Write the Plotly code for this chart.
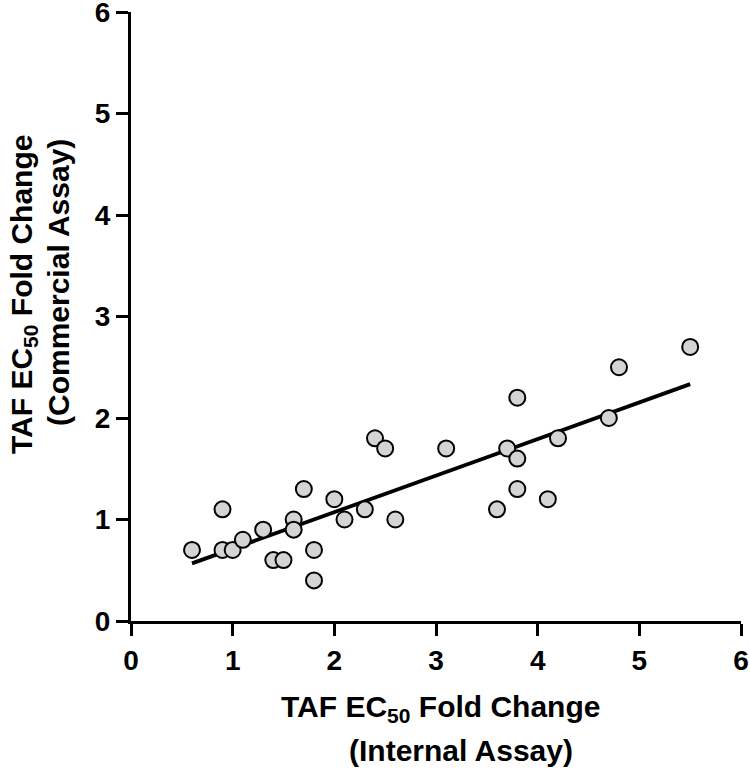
import numpy as np
import plotly.graph_objects as go

internal_fc = [0.6, 0.9, 0.9, 1.0, 1.1, 1.3, 1.4, 1.5, 1.6, 1.6, 1.7, 1.8, 1.8, 2.0, 2.1,
               2.3, 2.4, 2.5, 2.6, 3.1, 3.6, 3.7, 3.8, 3.8, 3.8, 4.1, 4.2, 4.7, 4.8, 5.5]
commercial_fc = [0.7, 1.1, 0.7, 0.7, 0.8, 0.9, 0.6, 0.6, 1.0, 0.9, 1.3, 0.7, 0.4, 1.2, 1.0,
                 1.1, 1.8, 1.7, 1.0, 1.7, 1.1, 1.7, 2.2, 1.6, 1.3, 1.2, 1.8, 2.0, 2.5, 2.7]
tick_vals = [0, 1, 2, 3, 4, 5, 6]

x = np.array(internal_fc)
y = np.array(commercial_fc)
slope, intercept = np.polyfit(x, y, 1)
fx = np.array([x.min(), x.max()])
fy = slope * fx + intercept

fig = go.Figure()
fig.add_trace(go.Scatter(x=fx, y=fy, mode="lines",
                         line=dict(color="black", width=3.8), hoverinfo="skip"))
fig.add_trace(go.Scatter(x=internal_fc, y=commercial_fc, mode="markers",
                         marker=dict(size=16, color="#d4d4d4",
                                     line=dict(color="black", width=2))))

font_family = "Liberation Sans, Arial, sans-serif"
axis_common = dict(range=[0, 6], tickvals=tick_vals, showgrid=False, zeroline=False,
                   showline=True, linecolor="black", linewidth=3, automargin=False,
                   ticks="outside", ticklen=12, tickwidth=3, tickcolor="black",
                   ticklabeloverflow="allow",
                   tickfont=dict(family=font_family, size=28, color="black", weight="bold"))
fig.update_xaxes(**axis_common)
fig.update_yaxes(**axis_common)

ML, MT, MR, MB = 131, 12, 9, 155
W, H = 750, 776
PW, PH = W - ML - MR, H - MT - MB


def px_x(p):
    return (p - ML) / PW


def px_y(p):
    return (MT + PH - p) / PH


title_font = dict(size=30, family=font_family, color="black")
sub50 = "<sub>50</sub>"
fig.update_layout(
    width=W, height=H, showlegend=False,
    plot_bgcolor="white", paper_bgcolor="white",
    margin=dict(l=ML, r=MR, t=MT, b=MB),
    font=dict(family=font_family, color="black"),
    annotations=[
        dict(text="<b>TAF EC" + sub50 + " Fold Change</b>",
             xref="paper", yref="paper", x=px_x(440), y=px_y(708),
             xanchor="center", yanchor="middle", showarrow=False, font=title_font),
        dict(text="<b>(Internal Assay)</b>",
             xref="paper", yref="paper", x=px_x(461), y=px_y(750),
             xanchor="center", yanchor="middle", showarrow=False, font=title_font),
        dict(text="<b>TAF EC" + sub50 + " Fold Change</b>",
             xref="paper", yref="paper", x=px_x(23), y=px_y(295),
             xanchor="center", yanchor="middle", textangle=-90,
             showarrow=False, font=title_font),
        dict(text="<b>(Commercial Assay)</b>",
             xref="paper", yref="paper", x=px_x(58), y=px_y(283),
             xanchor="center", yanchor="middle", textangle=-90,
             showarrow=False, font=title_font),
    ],
)
fig.write_html("out.html", config={"displayModeBar": False},
               post_script="document.body.style.margin='0';document.body.style.overflow='hidden';")
